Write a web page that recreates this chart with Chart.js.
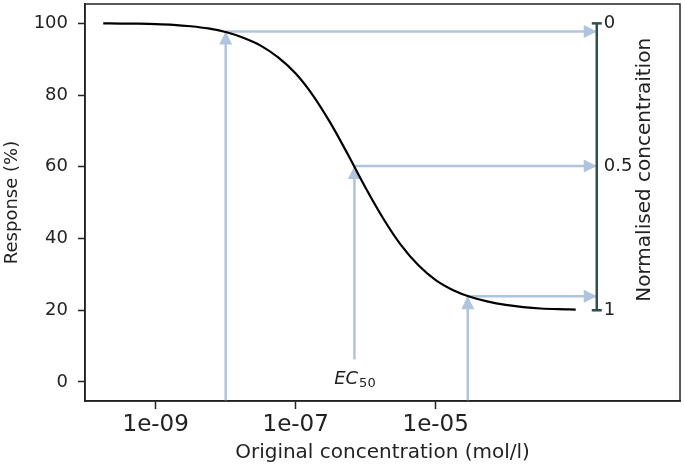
<!DOCTYPE html>
<html>
<head>
<meta charset="utf-8">
<script src="https://cdn.jsdelivr.net/npm/chart.js@4"></script>
<style>
  html, body { margin: 0; padding: 0; background: #fff; }
</style>
</head>
<body>
<canvas id="chart" width="685" height="467"></canvas>
<script>
// dose-response curve (concentration in mol/l, response in %)
const conc = [1.78e-10, 3.16e-10, 5.62e-10, 1e-9, 1.78e-9, 3.16e-9, 5.62e-9, 1e-8,
  1.78e-8, 3.16e-8, 5.62e-8, 1e-7, 1.78e-7, 3.16e-7, 5.62e-7, 1e-6, 1.78e-6, 3.16e-6,
  5.62e-6, 1e-5, 1.78e-5, 3.16e-5, 5.62e-5, 1e-4, 1.78e-4, 3.16e-4, 5.62e-4, 1e-3];
const response = [100.0, 99.95, 99.9, 99.8, 99.6, 99.2, 98.6, 97.6,
  96.0, 93.8, 90.5, 86.0, 79.8, 72.1, 63.3, 54.1, 45.6, 38.3,
  32.6, 28.4, 25.6, 23.7, 22.4, 21.5, 20.9, 20.5, 20.3, 20.2];

const xTicks = [1e-9, 1e-7, 1e-5];
const xTickLabels = ['1e-09', '1e-07', '1e-05'];
const yTicks = [0, 20, 40, 60, 80, 100];

// the three arrows: up from the axis to the curve, then across to the right-hand bar
const arrowConc = [1e-8, 6.9e-7, 2.87e-5];
const arrowFrom = [-10, 6.3, -10];
const arrowTo = [97.7, 60.2, 23.9];

// normalised concentration bar
const normConc = 2.0e-3;
const normResponse = [100, 60, 20];
const normLabels = ['0', '0.5', '1'];

const FONT = 'DejaVu Sans';
const ARROW = '#b0c4de';
const BAR = '#2f4f4f';
const INK = '#222';

const datasets = [{
  data: conc.map((c, i) => ({ x: c, y: response[i] })),
  borderColor: '#000',
  borderWidth: 2.2,
  pointRadius: 0,
  cubicInterpolationMode: 'monotone',
  order: 0
}, {
  data: [{ x: normConc, y: normResponse[2] }, { x: normConc, y: normResponse[0] }],
  borderColor: BAR,
  borderWidth: 2.5,
  pointStyle: 'line',
  pointRadius: 5,
  pointBorderWidth: 2.5,
  pointBorderColor: BAR,
  order: 1
}];

arrowConc.forEach((c, i) => {
  datasets.push({
    data: [{ x: c, y: arrowFrom[i] }, { x: c, y: arrowTo[i] }],
    borderColor: ARROW, borderWidth: 2.5, pointRadius: 0, arrow: true, order: 2
  });
  datasets.push({
    data: [{ x: c, y: arrowTo[i] }, { x: normConc, y: arrowTo[i] }],
    borderColor: ARROW, borderWidth: 2.5, pointRadius: 0, arrow: true, order: 2
  });
});

const arrowHeads = {
  id: 'arrowHeads',
  afterDatasetDraw(chart, args) {
    const ds = chart.data.datasets[args.index];
    if (!ds.arrow) return;
    const pts = args.meta.data;
    const a = pts[pts.length - 2], b = pts[pts.length - 1];
    const ang = Math.atan2(b.y - a.y, b.x - a.x);
    const ctx = chart.ctx;
    ctx.save();
    ctx.translate(b.x, b.y);
    ctx.rotate(ang);
    ctx.beginPath();
    ctx.moveTo(0, 0);
    ctx.lineTo(-13, -6.5);
    ctx.lineTo(-13, 6.5);
    ctx.closePath();
    ctx.fillStyle = ds.borderColor;
    ctx.fill();
    ctx.restore();
  }
};

const annotations = {
  id: 'annotations',
  afterDraw(chart) {
    const { ctx, chartArea: area, scales: { x, y } } = chart;
    ctx.save();
    // frame
    ctx.strokeStyle = INK;
    ctx.lineWidth = 1.5;
    ctx.strokeRect(area.left, area.top, area.right - area.left, area.bottom - area.top);

    // labels of the normalised bar
    const bx = x.getPixelForValue(normConc);
    ctx.fillStyle = INK;
    ctx.font = '18px "' + FONT + '"';
    ctx.textAlign = 'left';
    ctx.textBaseline = 'middle';
    normLabels.forEach((t, i) => ctx.fillText(t, bx + 7, y.getPixelForValue(normResponse[i])));

    // title of the normalised bar
    ctx.save();
    ctx.font = '20px "' + FONT + '"';
    ctx.translate(bx + 48, (y.getPixelForValue(100) + y.getPixelForValue(20)) / 2 + 3);
    ctx.rotate(-Math.PI / 2);
    ctx.textAlign = 'center';
    ctx.fillText('Normalised concentraition', 0, 0);
    ctx.restore();

    // EC50 label under the middle arrow
    const ex = x.getPixelForValue(arrowConc[1]);
    const ey = y.getPixelForValue(0) + 2;
    ctx.textBaseline = 'alphabetic';
    ctx.font = 'italic 18px "' + FONT + '"';
    const w1 = ctx.measureText('EC').width;
    ctx.font = '13px "' + FONT + '"';
    const w2 = ctx.measureText('50').width;
    const x0 = ex - (w1 + w2) / 2;
    ctx.font = 'italic 18px "' + FONT + '"';
    ctx.fillText('EC', x0, ey);
    ctx.font = '13px "' + FONT + '"';
    ctx.fillText('50', x0 + w1 + 1, ey + 3);
    ctx.restore();
  }
};

new Chart(document.getElementById('chart'), {
  type: 'line',
  data: { datasets },
  options: {
    responsive: false,
    animation: false,
    layout: { autoPadding: false, padding: { top: 4, right: 5, left: 0, bottom: 0 } },
    plugins: { legend: { display: false }, tooltip: { enabled: false } },
    scales: {
      x: {
        type: 'logarithmic',
        bounds: 'data',
        min: Math.pow(10, -10.01),
        max: Math.pow(10, -1.51),
        afterBuildTicks: s => { s.ticks = xTicks.map(v => ({ value: v })); },
        afterFit: s => { s.height = 66; s.paddingLeft = 0; s.paddingRight = 0; },
        ticks: {
          callback: (v, i) => xTickLabels[i],
          font: { family: FONT, size: 23 },
          color: INK,
          padding: 2,
          maxRotation: 0,
          autoSkip: false
        },
        grid: { drawOnChartArea: false, drawTicks: true, tickLength: 8, tickWidth: 1.5, tickColor: INK },
        border: { display: true, color: INK, width: 1.5 },
        title: {
          display: true,
          text: 'Original concentration (mol/l)',
          font: { family: FONT, size: 20 },
          color: INK,
          padding: { top: 0, bottom: 2 }
        }
      },
      y: {
        type: 'linear',
        bounds: 'data',
        min: -5.3,
        max: 105.4,
        afterBuildTicks: s => { s.ticks = yTicks.map(v => ({ value: v })); },
        afterFit: s => { s.width = 85; s.paddingTop = 0; s.paddingBottom = 0; },
        ticks: {
          font: { family: FONT, size: 18 },
          color: INK,
          padding: 10
        },
        grid: { drawOnChartArea: false, drawTicks: true, tickLength: 7, tickWidth: 1.5, tickColor: INK },
        border: { display: true, color: INK, width: 1.5 },
        title: {
          display: true,
          text: 'Response (%)',
          font: { family: FONT, size: 18 },
          color: INK,
          padding: { top: 2, bottom: 0 }
        }
      }
    }
  },
  plugins: [arrowHeads, annotations]
});
</script>
</body>
</html>
